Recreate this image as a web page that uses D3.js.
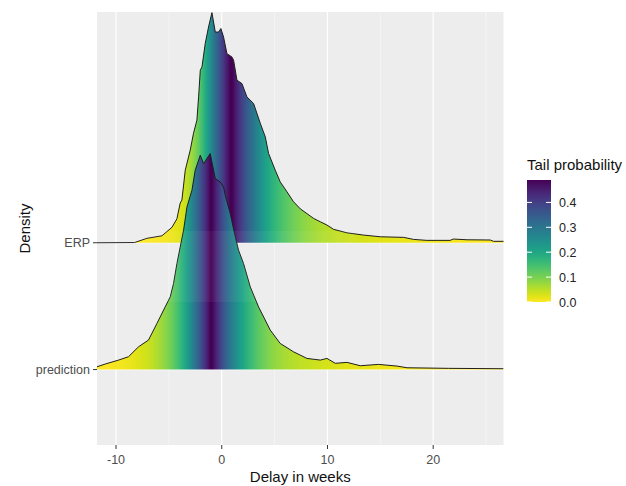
<!DOCTYPE html>
<html><head><meta charset="utf-8">
<script src="https://cdn.jsdelivr.net/npm/d3@7"></script>
<style>body{margin:0;background:#fff} text{font-family:"Liberation Sans",Arial,sans-serif}</style>
</head><body><svg id="c" width="626" height="486"></svg>
<script>
// ---- data ----
const categories = ["prediction", "ERP"];           // row 1 (bottom), row 2 (top)
const erpX = [-11.8,-8.25,-7.08,-5.66,-4.71,-4.24,-3.93,-3.77,-3.45,-2.98,-2.67,-2.35,-2.19,-2.03,-1.87,-1.56,-1.25,-0.93,-0.61,-0.30,-0.08,0.17,0.49,0.96,1.12,1.44,1.91,2.38,3.01,3.64,4.12,4.43,5.06,5.53,6.17,6.79,7.43,8.69,9.32,9.95,10.58,11.84,13.42,15.0,17.2,18.15,19.4,21.6,21.9,23.2,25.4,25.7,26.7];
const erpDensity = [0,0.0002,0.0037,0.0058,0.0129,0.0200,0.0331,0.0356,0.0606,0.0773,0.0914,0.1023,0.1217,0.1439,0.1467,0.1664,0.1800,0.1920,0.1758,0.1758,0.1787,0.1717,0.1578,0.1550,0.1523,0.1356,0.1328,0.1217,0.1162,0.0998,0.0883,0.0745,0.0606,0.0508,0.0425,0.0342,0.0283,0.0203,0.0175,0.0148,0.0112,0.0083,0.0064,0.0050,0.0045,0.0028,0.0020,0.0020,0.0031,0.0025,0.0023,0.0012,0.0012];
const predX = [-11.81,-11.02,-9.76,-8.82,-7.87,-6.93,-6.13,-5.35,-4.87,-4.56,-4.24,-3.93,-3.61,-3.29,-2.82,-2.51,-2.03,-1.72,-1.09,-0.61,-0.14,0.17,0.33,0.80,1.28,1.59,2.06,2.70,3.48,4.59,5.53,6.79,8.06,9.32,9.95,10.74,11.84,13.10,14.83,16.58,17.52,21.46,26.66];
const predDensity = [0.0023,0.0046,0.0079,0.0107,0.0190,0.0246,0.0385,0.0523,0.0607,0.0718,0.0885,0.1023,0.1163,0.1357,0.1496,0.1663,0.1788,0.1718,0.1802,0.1593,0.1565,0.1523,0.1454,0.1302,0.1107,0.0996,0.0885,0.0690,0.0523,0.0329,0.0218,0.0148,0.0093,0.0079,0.0093,0.0052,0.0060,0.0032,0.0043,0.0029,0.0015,0.0010,0.0007];
const xTicks = [-10, 0, 10, 20];
const xMinorTicks = [-5, 5, 15, 25];
const legendTicks = [0, 0.1, 0.2, 0.3, 0.4];
const legendTickLabels = ["0.0", "0.1", "0.2", "0.3", "0.4"];
const xTitle = "Delay in weeks", yTitle = "Density", legendTitle = "Tail probability";

// ---- layout ----
const svg = d3.select("#c");
const P = {l: 97, r: 503.5, t: 12, b: 445};
const x = d3.scaleLinear().domain([-11.8, 26.65]).range([P.l, P.r]);
const y = d3.scaleLinear().domain([0.405, 3.82]).range([P.b, P.t]);
const maxD = d3.max(erpDensity.concat(predDensity));
const ridgeHeight = 1.815;                 // rows occupied by the tallest ridge
const tailMax = 0.49;
const color = d3.scaleSequential(d3.interpolateViridis).domain([tailMax, 0]);

const defs = svg.append("defs");
defs.append("clipPath").attr("id", "panel").append("rect")
  .attr("x", P.l).attr("y", P.t).attr("width", P.r - P.l).attr("height", P.b - P.t);

// panel background + grid
svg.append("rect").attr("x", P.l).attr("y", P.t).attr("width", P.r - P.l).attr("height", P.b - P.t).attr("fill", "#ededed");
svg.append("g").selectAll("line").data(xMinorTicks).join("line")
  .attr("x1", d => x(d)).attr("x2", d => x(d)).attr("y1", P.t).attr("y2", P.b)
  .attr("stroke", "#fafafa").attr("stroke-width", 0.6);
svg.append("g").selectAll("line").data(xTicks).join("line")
  .attr("x1", d => x(d)).attr("x2", d => x(d)).attr("y1", P.t).attr("y2", P.b)
  .attr("stroke", "#fff").attr("stroke-width", 1.2);
svg.append("g").selectAll("line").data(categories).join("line")
  .attr("x1", P.l).attr("x2", P.r).attr("y1", (d, i) => y(i + 1)).attr("y2", (d, i) => y(i + 1))
  .attr("stroke", "#fff").attr("stroke-width", 1.2);

// ridges
const series = [
  {name: "ERP", row: 2, xs: erpX, ds: erpDensity},
  {name: "prediction", row: 1, xs: predX, ds: predDensity}
];
const gR = svg.append("g").attr("clip-path", "url(#panel)");
series.forEach((s, si) => {
  const pts = s.xs.map((v, i) => ({x: v, d: s.ds[i]}));
  // ECDF on a fine grid for the tail-probability colouring
  const interp = v => {
    const j = Math.max(1, d3.bisectLeft(s.xs, v));
    const x0 = s.xs[j - 1], x1 = s.xs[Math.min(j, s.xs.length - 1)];
    const d0 = s.ds[j - 1], d1 = s.ds[Math.min(j, s.ds.length - 1)];
    return x1 === x0 ? d0 : d0 + (d1 - d0) * (v - x0) / (x1 - x0);
  };
  const lo = s.xs[0], hi = s.xs[s.xs.length - 1], N = 600;
  const grid = d3.range(N + 1).map(k => lo + (hi - lo) * k / N);
  let cum = [0];
  for (let k = 1; k <= N; k++) cum.push(cum[k - 1] + (interp(grid[k]) + interp(grid[k - 1])) / 2 * (grid[k] - grid[k - 1]));
  const tot = cum[N];
  const gid = "grad" + si;
  const grad = defs.append("linearGradient").attr("id", gid).attr("gradientUnits", "userSpaceOnUse")
    .attr("x1", x(lo)).attr("x2", x(hi)).attr("y1", 0).attr("y2", 0);
  grid.forEach((g, k) => {
    const e = cum[k] / tot;
    const tail = 0.5 - Math.abs(0.5 - e);
    grad.append("stop").attr("offset", k / N).attr("stop-color", color(Math.min(tail, tailMax)));
  });
  const area = d3.area().x(p => x(p.x)).y0(y(s.row)).y1(p => y(s.row + p.d / maxD * ridgeHeight));
  const line = d3.line().x(p => x(p.x)).y(p => y(s.row + p.d / maxD * ridgeHeight));
  gR.append("path").datum(pts).attr("d", area).attr("fill", `url(#${gid})`);
  gR.append("path").datum(pts).attr("d", line).attr("fill", "none").attr("stroke", "#1e1e1e").attr("stroke-width", 1);
});

// faint overlay artefact seen in the reference screenshot
svg.append("rect").attr("x", 10).attr("y", 231).attr("width", 345).attr("height", 71)
  .attr("fill", "#fff").attr("opacity", 0.05);

// axes
const tickCol = "#4d4d4d";
svg.append("g").selectAll("line").data(xTicks).join("line")
  .attr("x1", d => x(d)).attr("x2", d => x(d)).attr("y1", P.b).attr("y2", P.b + 4)
  .attr("stroke", "#333").attr("stroke-width", 1);
svg.append("g").selectAll("text").data(xTicks).join("text")
  .attr("x", d => x(d)).attr("y", 464).attr("text-anchor", "middle")
  .attr("font-size", "12.5px").attr("fill", tickCol).text(d => d);
svg.append("g").selectAll("line").data(categories).join("line")
  .attr("x1", P.l - 4).attr("x2", P.l).attr("y1", (d, i) => y(i + 1)).attr("y2", (d, i) => y(i + 1))
  .attr("stroke", "#333").attr("stroke-width", 1);
svg.append("g").selectAll("text").data(categories).join("text")
  .attr("x", P.l - 7).attr("y", (d, i) => y(i + 1)).attr("dy", "0.36em").attr("text-anchor", "end")
  .attr("font-size", "12.5px").attr("fill", tickCol).text(d => d);
svg.append("text").attr("x", (P.l + P.r) / 2).attr("y", 482).attr("text-anchor", "middle")
  .attr("font-size", "15px").attr("fill", "#111").text(xTitle);
svg.append("text").attr("transform", `translate(30,${(P.t + P.b) / 2}) rotate(-90)`).attr("text-anchor", "middle")
  .attr("font-size", "15px").attr("fill", "#111").text(yTitle);

// legend
const L = {x: 527, w: 24, top: 180, bot: 302};
const ly = d3.scaleLinear().domain([0, tailMax]).range([L.bot, L.top]);
svg.append("text").attr("x", L.x).attr("y", 170).attr("font-size", "15px").attr("fill", "#111").text(legendTitle);
const lg = defs.append("linearGradient").attr("id", "lg").attr("x1", 0).attr("x2", 0).attr("y1", 1).attr("y2", 0);
d3.range(21).forEach(k => lg.append("stop").attr("offset", k / 20).attr("stop-color", color(tailMax * k / 20)));
svg.append("rect").attr("x", L.x).attr("y", L.top).attr("width", L.w).attr("height", L.bot - L.top).attr("fill", "url(#lg)");
legendTicks.forEach(t => {
  svg.append("line").attr("x1", L.x).attr("x2", L.x + 5).attr("y1", ly(t)).attr("y2", ly(t)).attr("stroke", "#fff").attr("stroke-width", 1);
  svg.append("line").attr("x1", L.x + L.w - 5).attr("x2", L.x + L.w).attr("y1", ly(t)).attr("y2", ly(t)).attr("stroke", "#fff").attr("stroke-width", 1);
});
svg.append("g").selectAll("text").data(legendTicks).join("text")
  .attr("x", 559).attr("y", d => ly(d)).attr("dy", "0.36em")
  .attr("font-size", "12.5px").attr("fill", "#222").text((d, i) => legendTickLabels[i]);
</script></body></html>
